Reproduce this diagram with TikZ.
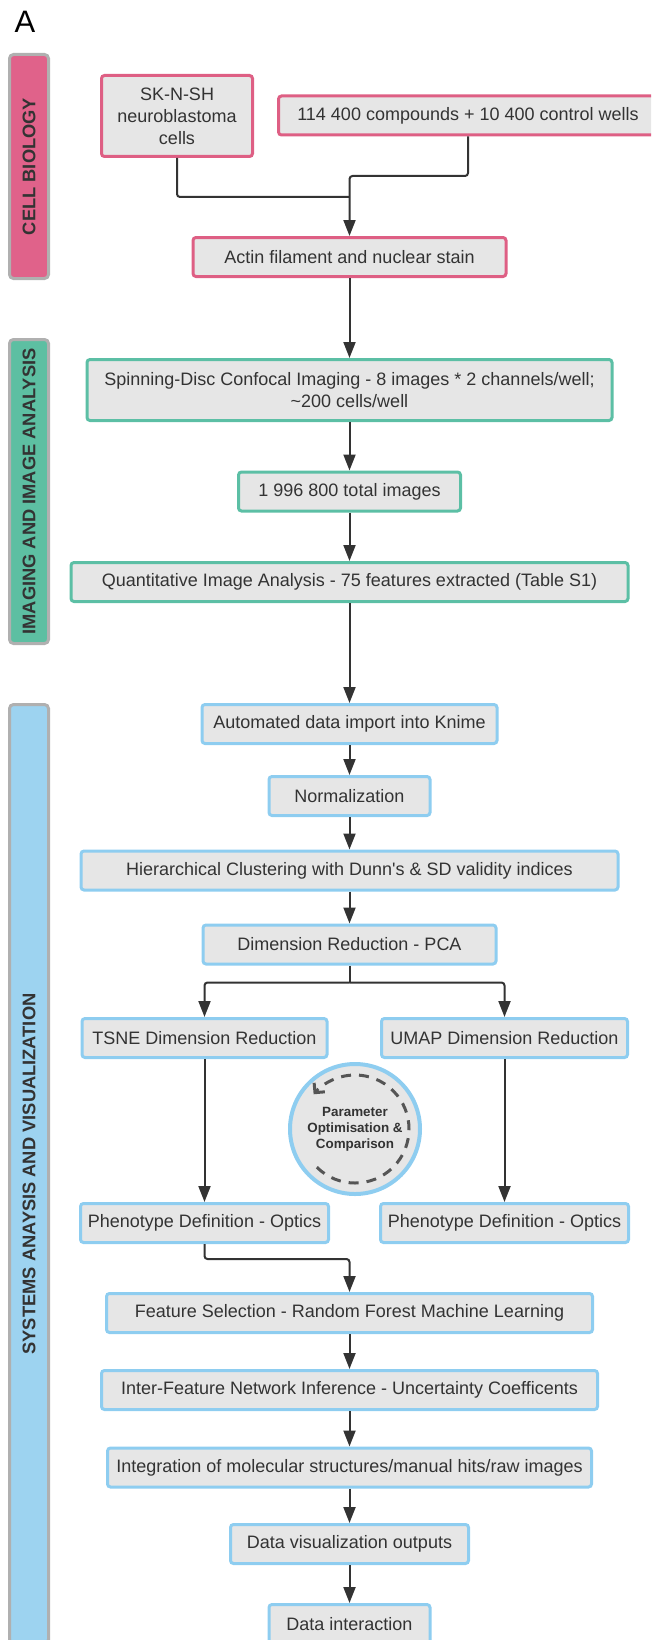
\documentclass[tikz,border=0pt]{standalone}
\usepackage{fontspec}
\setmainfont{Liberation Sans}
\usetikzlibrary{arrows.meta}

\definecolor{rimpink}{HTML}{DE5F84}
\definecolor{rimteal}{HTML}{5CBFA5}
\definecolor{rimblue}{HTML}{8ECDF0}
\definecolor{barpink}{HTML}{E0628A}
\definecolor{barteal}{HTML}{5DBFA2}
\definecolor{barblue}{HTML}{9DD3F0}
\definecolor{boxgray}{HTML}{E6E6E6}
\definecolor{txtgray}{HTML}{333333}
\definecolor{rimgray}{HTML}{B0B0B0}
\definecolor{dashgray}{HTML}{555555}

\begin{document}
\begin{tikzpicture}[x=1pt,y=-1pt,
    stage/.style={draw=#1,fill=boxgray,line width=3pt,rounded corners=3pt,
      minimum height=39pt,inner sep=0pt,align=center,text=txtgray,
      font=\fontsize{18}{22}\selectfont},
    phasebar/.style={draw=rimgray,fill=#1,line width=3pt,rounded corners=4pt},
    phaselabel/.style={rotate=90,text=txtgray,font=\bfseries\fontsize{18.3}{18}\selectfont},
    flow/.style={txtgray,line width=2pt,rounded corners=3pt,-{Triangle[length=16pt,width=12pt]}},
    wire/.style={txtgray,line width=2pt,rounded corners=3pt}]
  \clip (0,0) rectangle (651,1640);

  % phase bars on the left
  \foreach[count=\i] \ytop/\ybot/\tint/\phase in {53/280/barpink/CELL BIOLOGY,
      338/645/barteal/IMAGING AND IMAGE ANALYSIS,
      703/1645/barblue/SYSTEMS ANAYSIS AND VISUALIZATION} {
    \draw[phasebar=\tint] (9.5,\ytop+1.5) rectangle (48.5,\ybot-1.5);
    \node[phaselabel] (phase\i) at (29,{(\ytop+\ybot)/2}) {\phase};
  }

  \node[font=\fontsize{31}{31}\selectfont] (panel) at (25,22) {A};

  % cell biology
  \node[stage=rimpink,minimum width=151pt,minimum height=81pt] (cells) at (177,116) {SK-N-SH\\neuroblastoma\\cells};
  \node[stage=rimpink,minimum width=379pt] (compounds) at (468,115.5) {114 400 compounds + 10 400 control wells};
  \node[stage=rimpink,minimum width=313pt] (stain) at (349.5,257) {Actin filament and nuclear stain};

  % imaging
  \node[stage=rimteal,minimum width=525pt,minimum height=61pt] (spin) at (349.5,390) {Spinning-Disc Confocal Imaging - 8 images * 2 channels/well;\\\textasciitilde200 cells/well};
  \node[stage=rimteal,minimum width=222pt] (total) at (349.5,491.5) {1 996 800 total images};
  \node[stage=rimteal,minimum width=557pt] (quant) at (349.5,582) {Quantitative Image Analysis - 75 features extracted (Table S1)};

  % systems analysis
  \node[stage=rimblue,minimum width=295pt] (import) at (349.5,724) {Automated data import into Knime};
  \node[stage=rimblue,minimum width=161pt] (norm) at (349.5,796) {Normalization};
  \node[stage=rimblue,minimum width=537pt] (hier) at (349.5,870.5) {Hierarchical Clustering with Dunn\textquotesingle s \& SD validity indices};
  \node[stage=rimblue,minimum width=293pt] (pca) at (349.5,944.5) {Dimension Reduction - PCA};
  \node[stage=rimblue,minimum width=245pt] (tsne) at (204.5,1038) {TSNE Dimension Reduction};
  \node[stage=rimblue,minimum width=246pt] (umap) at (504.5,1038) {UMAP Dimension Reduction};
  \node[stage=rimblue,minimum width=248pt] (phenoL) at (204.5,1223) {Phenotype Definition - Optics};
  \node[stage=rimblue,minimum width=248pt] (phenoR) at (504.5,1223) {Phenotype Definition - Optics};
  \node[stage=rimblue,minimum width=486pt] (feat) at (349.5,1313) {Feature Selection - Random Forest Machine Learning};
  \node[stage=rimblue,minimum width=496pt] (inter) at (349.5,1390) {Inter-Feature Network Inference - Uncertainty Coefficents};
  \node[stage=rimblue,minimum width=484pt] (integ) at (349.5,1467.5) {Integration of molecular structures/manual hits/raw images};
  \node[stage=rimblue,minimum width=238pt] (outputs) at (349.5,1544) {Data visualization outputs};
  \node[stage=rimblue,minimum width=161pt] (interact) at (349.5,1624) {Data interaction};

  \node[circle,draw=rimblue,line width=4pt,fill=boxgray,minimum size=130pt,inner sep=0pt,
    align=center,text=txtgray,font=\bfseries\fontsize{13.4}{16}\selectfont] (optim) at (355,1129)
    {Parameter\\Optimisation \&\\Comparison};
  \draw[dashgray,line width=3pt,dash pattern=on 10pt off 8pt,-{Straight Barb[length=7pt,width=14pt]}]
    ([shift={(135:54)}]optim.center) arc[start angle=135,end angle=-140,radius=54];

  % connectors
  \coordinate (cellsjoin) at (349.5,197);
  \coordinate (compjoin) at (349.5,176);
  \draw[wire] (cells.south) |- (cellsjoin);
  \draw[flow] (compounds.south) |- (compjoin) -- (stain.north);

  \foreach \a/\b in {stain/spin,spin/total,total/quant,quant/import,import/norm,norm/hier,hier/pca,
      tsne/phenoL,umap/phenoR,feat/inter,inter/integ,integ/outputs,outputs/interact}
    \draw[flow] (\a.south) -- (\b.north);

  \draw[wire] (pca.south) -- ++(0,17) coordinate (fork);
  \draw[flow] (fork) -| (tsne.north);
  \draw[flow] (fork) -| (umap.north);
  \draw[flow] (phenoL.south) -- ++(0,15) -| (feat.north);
\end{tikzpicture}
\end{document}
